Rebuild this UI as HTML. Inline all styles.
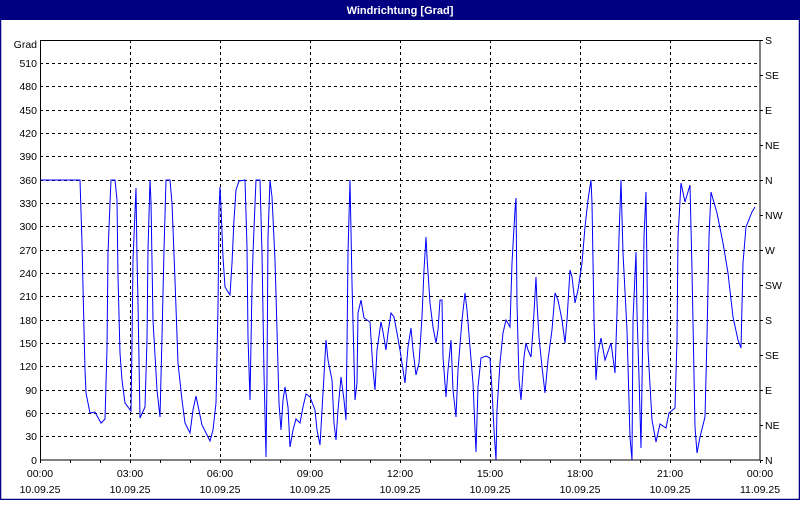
<!DOCTYPE html>
<html><head><meta charset="utf-8"><style>
body{margin:0;width:800px;height:500px;overflow:hidden;background:#fff;font-family:"Liberation Sans",sans-serif}
</style></head><body>
<svg width="800" height="500" xmlns="http://www.w3.org/2000/svg" font-family="Liberation Sans, sans-serif" font-size="10.5">
<rect x="0" y="0" width="800" height="500" fill="#fff"/>
<rect x="0" y="0" width="800" height="20" fill="#000080"/>
<rect x="0.5" y="0.5" width="799" height="499" fill="none" stroke="#000080" stroke-width="1.5"/>
<text x="400" y="14" fill="#fff" font-weight="bold" text-anchor="middle" font-size="11">Windrichtung [Grad]</text>
<g stroke="#000" stroke-width="1" stroke-dasharray="3,3" fill="none">
<path d="M40 63.5H760M40 86.5H760M40 110.5H760M40 133.5H760M40 156.5H760M40 180.5H760M40 203.5H760M40 226.5H760M40 250.5H760M40 273.5H760M40 296.5H760M40 320.5H760M40 343.5H760M40 366.5H760M40 390.5H760M40 413.5H760M40 436.5H760"/>
<path d="M130.5 40V460M220.5 40V460M310.5 40V460M400.5 40V460M490.5 40V460M580.5 40V460M670.5 40V460"/>
</g>
<polyline fill="none" stroke="#0000ff" stroke-width="1" points="40,180 80,180 80.7,201.7 82,243 83,287 84,330 85,370 86,393 90,413 95,412 101,423 105,419 107,348 108,253 110,203 111,180 115,180 117,200 118,277 120,353 122,380 125,403 131,411 132,343 133,260 136,188 137,257 138,303 140,418 145,407 147,340 148,250 150,180 151,202 153,320 157,390 160,417 162,337 164,250 166,180 170,180 172,203 175,280 178,363 182,400 185,423 190,433 193,410 196,396 202,425 210,441 213,430 216,403 218,307 219,210 220,187 221,207 223,257 225,287 230,295 232,263 234,220 236,190 239,181 245,180 247,247 248,337 250,400 252,287 253,253 256,180 260,180 262,253 264,373 266,457 267,377 268,237 270,180 272,197 275,260 277,330 279,403 281,430 283,400 285,387 288,407 290,447 293,430 296,419 300,423 303,407 306,394 310,397 315,410 317,430 320,445 323,393 326,340 328,360 332,380 334,423 336,440 338,410 341,377 344,400 346,420 347,347 348,253 350,180 352,283 355,400 357,383 358,313 361,300 364,318 370,322 373,370 375,390 377,350 381,322 383,332 386,350 388,333 391,313 394,317 397,333 400,350 402,363 405,383 408,347 411,328 413,350 416,375 419,363 422,317 424,270 426,237 427,257 430,303 433,327 436,343 438,330 440,300 442,300 443,357 446,397 448,370 451,340 453,390 456,417 458,370 462,320 465,293 467,310 470,347 473,383 476,452 478,387 481,358 486,356 490,358 492,390 494,430 496,460 497,410 500,363 503,333 506,320 510,327 512,263 515,210 516,198 517,303 519,380 521,400 524,357 526,343 528,350 531,357 533,330 536,277 537,303 539,337 542,367 545,393 548,360 552,330 555,293 558,300 562,320 565,343 567,320 570,270 572,277 575,303 578,290 582,263 585,227 588,200 591,180 592,203 594,320 596,380 598,353 601,338 605,360 611,343 615,373 617,313 619,237 621,180 623,253 627,330 630,437 632,460 633,320 636,252 637,313 639,377 641,448 643,320 644,237 646,192 648,350 652,420 656,442 660,424 666,428 669,413 675,408 677,340 678,237 681,183 685,202 690,185 692,270 695,427 697,453 700,437 705,417 707,337 709,237 711,192 717,213 723,243 728,273 733,317 738,340 741,348 743,263 746,227 752,212 755,207"/>
<g stroke="#000" stroke-width="1" fill="none">
<rect x="40.5" y="40.5" width="719.5" height="419.5"/>
<path d="M40.5 460V463M70.5 460V463M100.5 460V463M130.5 460V463M160.5 460V463M190.5 460V463M220.5 460V463M250.5 460V463M280.5 460V463M310.5 460V463M340.5 460V463M370.5 460V463M400.5 460V463M430.5 460V463M460.5 460V463M490.5 460V463M520.5 460V463M550.5 460V463M580.5 460V463M610.5 460V463M640.5 460V463M670.5 460V463M700.5 460V463M730.5 460V463M760.5 460V463"/>
<path d="M760 40.5H763M760 75.5H763M760 110.5H763M760 145.5H763M760 180.5H763M760 215.5H763M760 250.5H763M760 285.5H763M760 320.5H763M760 355.5H763M760 390.5H763M760 425.5H763M760 460.5H763"/>
</g>
<g text-anchor="end" fill="#000">
<text x="37" y="48">Grad</text>
<text x="37" y="67">510</text><text x="37" y="90">480</text><text x="37" y="114">450</text><text x="37" y="137">420</text><text x="37" y="160">390</text><text x="37" y="184">360</text><text x="37" y="207">330</text><text x="37" y="230">300</text><text x="37" y="254">270</text><text x="37" y="277">240</text><text x="37" y="300">210</text><text x="37" y="324">180</text><text x="37" y="347">150</text><text x="37" y="370">120</text><text x="37" y="394">90</text><text x="37" y="417">60</text><text x="37" y="440">30</text><text x="37" y="464">0</text>
</g>
<g fill="#000">
<text x="765" y="44">S</text><text x="765" y="79">SE</text><text x="765" y="114">E</text><text x="765" y="149">NE</text><text x="765" y="184">N</text><text x="765" y="219">NW</text><text x="765" y="254">W</text><text x="765" y="289">SW</text><text x="765" y="324">S</text><text x="765" y="359">SE</text><text x="765" y="394">E</text><text x="765" y="429">NE</text><text x="765" y="464">N</text>
</g>
<g text-anchor="middle" fill="#000">
<text x="40" y="477">00:00</text><text x="40" y="493">10.09.25</text>
<text x="130" y="477">03:00</text><text x="130" y="493">10.09.25</text>
<text x="220" y="477">06:00</text><text x="220" y="493">10.09.25</text>
<text x="310" y="477">09:00</text><text x="310" y="493">10.09.25</text>
<text x="400" y="477">12:00</text><text x="400" y="493">10.09.25</text>
<text x="490" y="477">15:00</text><text x="490" y="493">10.09.25</text>
<text x="580" y="477">18:00</text><text x="580" y="493">10.09.25</text>
<text x="670" y="477">21:00</text><text x="670" y="493">10.09.25</text>
<text x="760" y="477">00:00</text><text x="760" y="493">11.09.25</text>
</g>
</svg>
</body></html>
